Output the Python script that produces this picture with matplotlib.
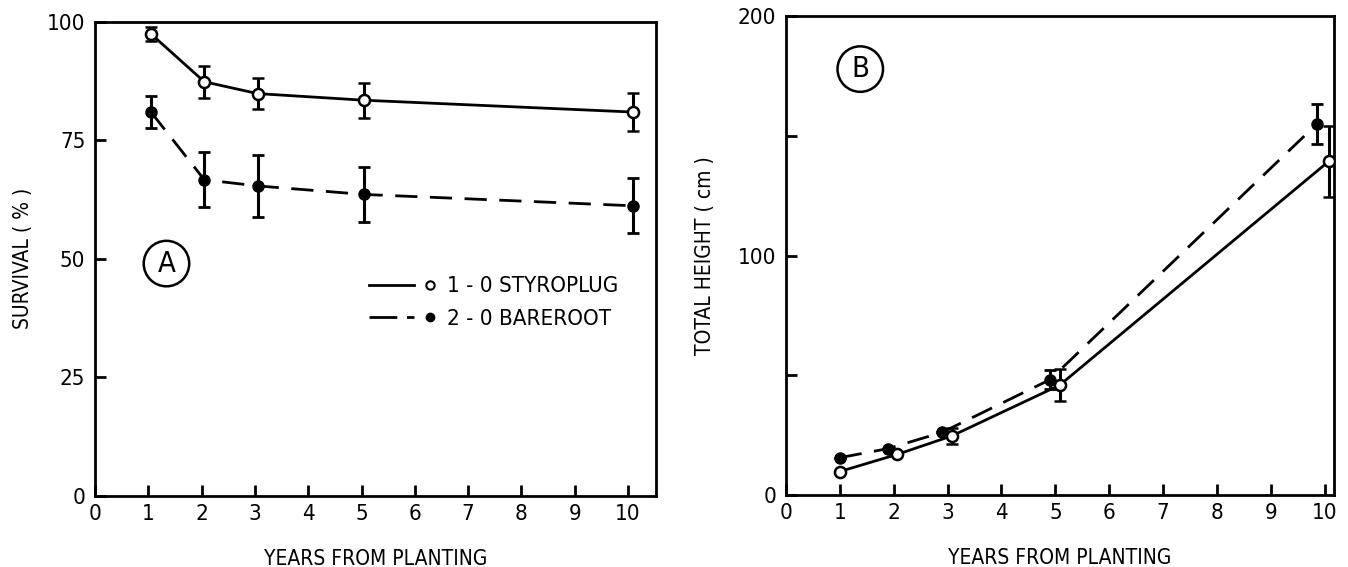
import matplotlib
matplotlib.use("Agg")
import matplotlib.pyplot as plt
from matplotlib import font_manager
from matplotlib.lines import Line2D
from matplotlib.legend_handler import HandlerBase

names = {f.name for f in font_manager.fontManager.ttflist}
if "Liberation Sans Narrow" in names:
    plt.rcParams["font.family"] = ["Liberation Sans Narrow", "DejaVu Sans"]
else:
    plt.rcParams["font.family"] = ["DejaVu Sans"]
    plt.rcParams["font.stretch"] = "condensed"

# ---------------- data ----------------
years = [1, 2, 3, 5, 10]

# Panel A: survival (%)
surv_x_plug = [1.05, 2.05, 3.05, 5.05, 10.1]
surv_plug = [97.5, 87.4, 84.9, 83.5, 81.0]
surv_plug_err = [1.4, 3.4, 3.3, 3.7, 4.0]
surv_x_bare = [1.05, 2.05, 3.05, 5.05, 10.1]
surv_bare = [81.0, 66.7, 65.4, 63.6, 61.2]
surv_bare_err = [3.4, 5.8, 6.5, 5.9, 5.8]

# Panel B: total height (cm)
ht_x_plug = [1.0, 2.07, 3.08, 5.08, 10.07]
ht_plug = [9.8, 17.0, 24.7, 45.9, 139.4]
ht_plug_err = [0, 0, 3.4, 6.8, 15.0]
ht_x_bare = [1.0, 1.9, 2.9, 4.9, 9.85]
ht_bare = [15.6, 19.4, 26.2, 48.2, 155.0]
ht_bare_err = [0, 0, 0, 4.0, 8.5]

xticks = list(range(0, 11))
surv_ticks = [0, 25, 50, 75, 100]
ht_ticks = [0, 100, 200]
ht_minor = [50, 150]

label_plug = "1 - 0 STYROPLUG"
label_bare = "2 - 0 BAREROOT"


class LineThenMarker(HandlerBase):
    """Legend key: line segment on the left, marker after a small gap."""
    def create_artists(self, legend, orig_handle, xdescent, ydescent,
                       width, height, fontsize, trans):
        line_h, mk_h = orig_handle
        y = height / 2 - ydescent
        x0 = -xdescent
        ln = Line2D([x0, x0 + width * 0.7], [y, y])
        ln.update_from(line_h)
        ln.set_transform(trans)
        mk = Line2D([x0 + width * 0.95], [y])
        mk.update_from(mk_h)
        mk.set_transform(trans)
        return [ln, mk]


# ---------------- figure ----------------
fig = plt.figure(figsize=(13.48, 5.67), dpi=100)
axA = fig.add_axes([0.0705, 0.126, 0.416, 0.835])
axB = fig.add_axes([0.583, 0.127, 0.4066, 0.844])

lw = 2.0
dash = (0, (8, 4.5))
tfs = 16
lfs = 15

def style(ax):
    for s in ax.spines.values():
        s.set_linewidth(2.0)
    ax.tick_params(direction="in", length=8, width=2, labelsize=tfs)
    ax.tick_params(axis="x", pad=6)
    ax.tick_params(axis="y", pad=7)
    ax.tick_params(which="minor", direction="in", length=8, width=2)
    ax.set_xticks(xticks)
    ax.set_xlabel("YEARS FROM PLANTING", fontsize=lfs, labelpad=18)

# Panel A
axA.errorbar(surv_x_plug, surv_plug, yerr=surv_plug_err, color="black", lw=lw,
             marker="o", ms=8, mfc="white", mec="black", mew=1.8,
             elinewidth=2.2, capsize=4, capthick=2, zorder=3)
axA.errorbar(surv_x_bare, surv_bare, yerr=surv_bare_err, color="black", lw=lw,
             ls=dash, marker="o", ms=8, mfc="black", mec="black",
             elinewidth=2.2, capsize=4, capthick=2, zorder=3)
axA.set_xlim(0, 10.52)
axA.set_ylim(0, 100)
axA.set_yticks(surv_ticks)
axA.set_ylabel("SURVIVAL ( % )", fontsize=lfs, labelpad=10)
style(axA)
axA.text(1.34, 49, "A", fontsize=21, ha="center", va="center",
         bbox=dict(boxstyle="circle,pad=0.3", fc="white", ec="black", lw=1.8))

h_plug = (Line2D([], [], color="black", lw=lw),
          Line2D([], [], ls="none", marker="o", ms=6, mfc="white", mec="black", mew=1.5))
h_bare = (Line2D([], [], color="black", lw=lw, ls=(0, (10, 3.5))),
          Line2D([], [], ls="none", marker="o", ms=6, mfc="black", mec="black"))
axA.legend([h_plug, h_bare], [label_plug, label_bare],
           handler_map={tuple: LineThenMarker()},
           loc="upper left", bbox_to_anchor=(0.453, 0.505), frameon=False,
           fontsize=16, handlelength=2.9, handletextpad=0.6, labelspacing=0.55)

# Panel B
axB.errorbar(ht_x_plug, ht_plug, yerr=ht_plug_err, color="black", lw=lw,
             marker="o", ms=8, mfc="white", mec="black", mew=1.8,
             elinewidth=2.2, capsize=4, capthick=2, zorder=3)
axB.errorbar(ht_x_bare, ht_bare, yerr=ht_bare_err, color="black", lw=lw,
             ls=dash, marker="o", ms=8, mfc="black", mec="black",
             elinewidth=2.2, capsize=4, capthick=2, zorder=3)
axB.set_xlim(0, 10.17)
axB.set_ylim(0, 200)
axB.set_yticks(ht_ticks)
axB.set_yticks(ht_minor, minor=True)
axB.set_ylabel("TOTAL HEIGHT ( cm )", fontsize=lfs, labelpad=16)
style(axB)
axB.text(1.38, 178, "B", fontsize=21, ha="center", va="center",
         bbox=dict(boxstyle="circle,pad=0.3", fc="white", ec="black", lw=1.8))

fig.savefig("out.png", dpi=100)
